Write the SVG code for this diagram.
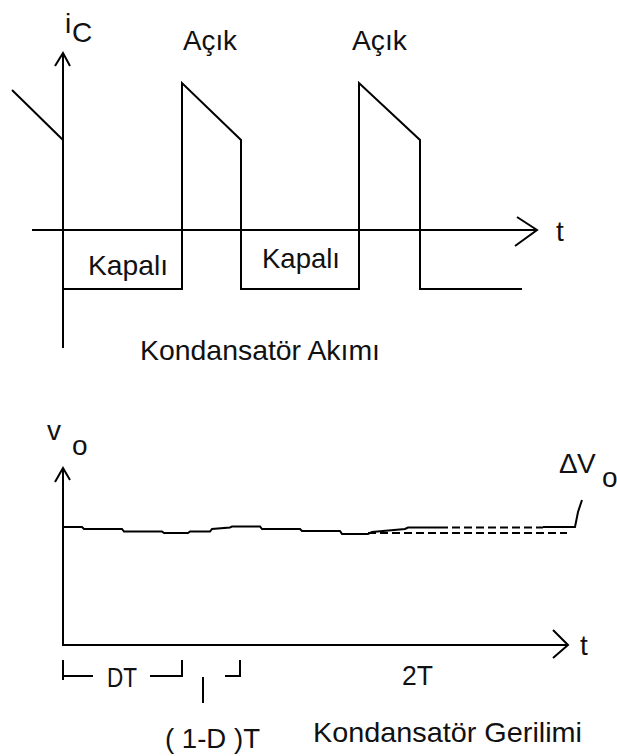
<svg xmlns="http://www.w3.org/2000/svg" width="617" height="756" viewBox="0 0 617 756">
<style>
.ln{fill:none;stroke:#000;stroke-width:2;stroke-linejoin:miter;stroke-linecap:butt}
.ds{fill:none;stroke:#000;stroke-width:2;stroke-dasharray:8 4}
text{font-family:"Liberation Sans",Arial,sans-serif;fill:#111;font-size:28px;font-weight:normal}
</style>
<rect width="617" height="756" fill="#fff"/>
<g id="axes-current">
<polyline class="ln" points="63,348 63,53"/>
<polyline class="ln" points="55,66 63,53 70,66"/>
<polyline class="ln" points="32,230 537,230"/>
<polyline class="ln" points="517,217 537,230 515,246"/>
</g>
<g id="current-wave">
<polyline class="ln" points="12,90 63,140"/>
<polyline class="ln" points="63,289 182,289 182,83 241,140 241,289 359,289 359,83 420,140 420,289 522,289"/>
</g>
<g id="current-labels">
<text x="65" y="33" font-size="27">i</text>
<text x="72" y="42" font-size="32">C</text>
<text x="183" y="50" font-size="30" textLength="54" lengthAdjust="spacingAndGlyphs">Açık</text>
<text x="352" y="50" font-size="30" textLength="55" lengthAdjust="spacingAndGlyphs">Açık</text>
<text x="88" y="275" font-size="31" textLength="80" lengthAdjust="spacingAndGlyphs">Kapalı</text>
<text x="262" y="268" font-size="31" textLength="78" lengthAdjust="spacingAndGlyphs">Kapalı</text>
<text x="556" y="241" font-size="31">t</text>
<text x="140" y="360" font-size="31" textLength="240" lengthAdjust="spacingAndGlyphs">Kondansatör Akımı</text>
</g>
<g id="axes-voltage">
<polyline class="ln" points="63,646 63,468"/>
<polyline class="ln" points="55,482 63,468 70,480"/>
<polyline class="ln" points="63,645 568,645"/>
<polyline class="ln" points="553,630 568,645 553,658"/>
</g>
<g id="voltage-wave">
<polyline class="ln" points="63,527 82,527 84,529 122,529 124,531.5 162,531.5 164,533 188,533 190,531.5 210,531.5 212,529 230,527.5 232,526.5 260,526.5 262,529 300,529 302,531 340,531 342,534 368,534 372,532 405,529 408,527.5 440,527.5"/>
<polyline class="ds" points="440,527.5 543,527.5"/>
<polyline class="ln" points="543,527 575,527 578,512 582,500"/>
<polyline class="ds" points="368,533 567,533"/>
</g>
<g id="voltage-labels">
<text x="47" y="440" font-size="32">v</text>
<text x="72" y="455" font-size="32">o</text>
<text x="559" y="473" font-size="30">Δ</text>
<text x="577" y="473" font-size="30">V</text>
<text x="602" y="487" font-size="28">o</text>
<text x="580" y="655" font-size="31">t</text>
</g>
<g id="time-markers">
<polyline class="ln" points="63,660 63,680"/>
<polyline class="ln" points="63,676 93,676"/>
<polyline class="ln" points="150,676 182,676 182,660"/>
<polyline class="ln" points="203,677 203,703"/>
<polyline class="ln" points="225,676 240,676 240,660"/>
<text x="107" y="687" font-size="29" textLength="30" lengthAdjust="spacingAndGlyphs">DT</text>
<text x="402" y="685" font-size="32" textLength="31" lengthAdjust="spacingAndGlyphs">2T</text>
<text x="165" y="748" font-size="34" textLength="95" lengthAdjust="spacingAndGlyphs">( 1-D )T</text>
<text x="313" y="742" font-size="31" textLength="269" lengthAdjust="spacingAndGlyphs">Kondansatör Gerilimi</text>
</g>
</svg>
